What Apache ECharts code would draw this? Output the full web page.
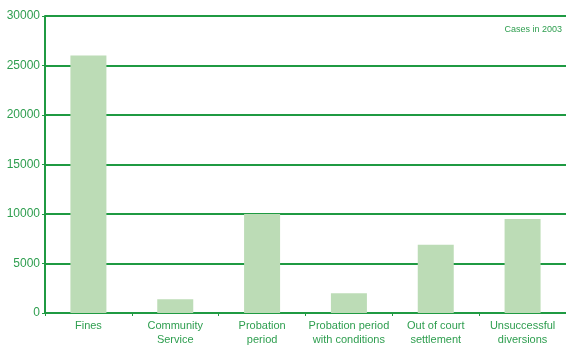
<!DOCTYPE html>
<html><head><meta charset="utf-8">
<script src="https://cdn.jsdelivr.net/npm/echarts@6/dist/echarts.min.js"></script>
<style>html,body{margin:0;padding:0;background:#fff}#c{width:566px;height:347px}</style>
</head><body><div id="c"></div>
<script>
const categories = ["Fines", "Community\nService", "Probation\nperiod", "Probation period\nwith conditions", "Out of court\nsettlement", "Unsuccessful\ndiversions"];
const cases = [26000, 1400, 10000, 2000, 6900, 9500];
const yTicks = [0, 5000, 10000, 15000, 20000, 25000, 30000];
const note = "Cases in 2003";

const green = "#1f9a42";
const textGreen = "#2e9e4f";
const font = "'Liberation Sans', Arial, sans-serif";
const chart = echarts.init(document.getElementById('c'), null, {renderer: 'canvas'});
chart.setOption({
  animation: false,
  grid: {left: 45, right: 0, top: 16, bottom: 32, containLabel: false},
  graphic: [{type: 'text', right: 4, top: 25, style: {text: note, fill: textGreen, font: "9px " + font, textAlign: 'right'}}],
  xAxis: {
    type: 'category', data: categories,
    axisLine: {lineStyle: {color: green, width: 2}},
    axisTick: {show: true, interval: 0, length: 3, lineStyle: {color: green, width: 1}},
    axisLabel: {interval: 0, color: textGreen, fontFamily: font, fontSize: 11, lineHeight: 14, margin: 6}
  },
  yAxis: {
    type: 'value', min: yTicks[0], max: yTicks[yTicks.length - 1], interval: 5000,
    axisLine: {show: true, lineStyle: {color: green, width: 2}},
    axisTick: {show: true, length: 3, lineStyle: {color: green, width: 1}},
    splitLine: {lineStyle: {color: green, width: 2}},
    axisLabel: {color: textGreen, fontFamily: font, fontSize: 12, margin: 5, formatter: v => String(v)}
  },
  series: [{type: 'bar', data: cases, barWidth: 36, itemStyle: {color: '#bcdcb6'}}]
});
</script></body></html>
